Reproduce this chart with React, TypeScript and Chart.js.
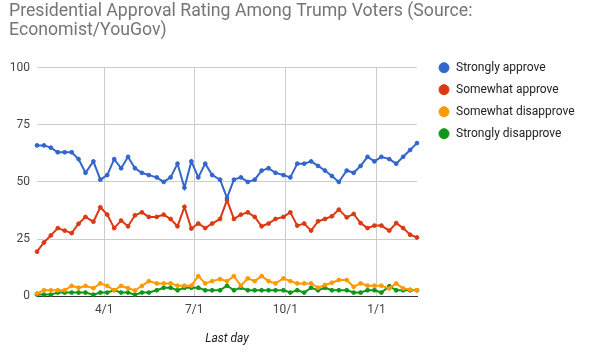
import React, { useEffect, useRef } from "react";
import { Chart, registerables } from "chart.js";

Chart.register(...registerables);

// ---- data ----
const pollDates = [
  "2017-01-23", "2017-01-30", "2017-02-06", "2017-02-13", "2017-02-20", "2017-02-27",
  "2017-03-06", "2017-03-13", "2017-03-21", "2017-03-28", "2017-04-04", "2017-04-11",
  "2017-04-18", "2017-04-25", "2017-05-02", "2017-05-09", "2017-05-16", "2017-05-24",
  "2017-05-31", "2017-06-07", "2017-06-14", "2017-06-21", "2017-06-28", "2017-07-05",
  "2017-07-12", "2017-07-19", "2017-07-27", "2017-08-03", "2017-08-10", "2017-08-17",
  "2017-08-24", "2017-08-31", "2017-09-07", "2017-09-14", "2017-09-21", "2017-09-29",
  "2017-10-06", "2017-10-13", "2017-10-20", "2017-10-27", "2017-11-03", "2017-11-10",
  "2017-11-17", "2017-11-24", "2017-12-02", "2017-12-09", "2017-12-16", "2017-12-23",
  "2017-12-30", "2018-01-06", "2018-01-14", "2018-01-21", "2018-01-28", "2018-02-04",
  "2018-02-11",
];

const stronglyApprove = [
  66, 66, 65, 63, 63, 63, 60, 54, 59, 51,
  53, 60, 56, 61, 56, 54, 53, 52, 50, 52,
  58, 47.5, 59, 52, 58, 53, 51, 43, 51, 52,
  50, 51, 55, 56, 54, 53, 52, 58, 58, 59,
  57, 55, 52.6, 50, 55, 54, 57, 61, 59, 61,
  60, 58, 61, 64, 67,
];

const somewhatApprove = [
  19.5, 23.5, 26.6, 29.8, 28.7, 27.6, 31.7, 34.7, 32.6, 38.9,
  35.7, 29.8, 33.1, 30.6, 35.4, 36.7, 34.7, 34.7, 35.7, 33.8,
  30.6, 39.1, 29.6, 31.8, 29.8, 31.8, 33.8, 42, 33.8, 35.7,
  36.7, 34.7, 30.6, 31.8, 33.8, 34.7, 36.7, 30.9, 31.8, 28.7,
  32.8, 33.8, 35, 37.9, 34.5, 36, 32, 29.8, 30.9, 30.9,
  28.7, 32, 29.8, 26.9, 25.7,
];

const somewhatDisapprove = [
  1.2, 2.6, 2.6, 2.6, 2.6, 4.5, 3.7, 4.5, 3.5, 5.6,
  4.5, 2.6, 4.5, 3.5, 2.5, 4.5, 6.6, 5.6, 5.6, 5.6,
  4.6, 4.6, 4.6, 8.8, 5.6, 6.6, 7.5, 6.6, 8.8, 4.6,
  7.8, 6.6, 8.8, 6.6, 5.6, 7.8, 6.6, 5.6, 5.6, 5.6,
  3.7, 4.9, 5.9, 7.1, 7.1, 4.1, 5.6, 4.6, 4.6, 4.6,
  3.4, 5.6, 3.4, 2.9, 2.6,
];

const stronglyDisapprove = [
  0.7, 0.7, 0.7, 1.6, 1.6, 1.6, 1.6, 1.6, 0.7, 1.6,
  1.6, 2.6, 1.6, 1.6, 0.7, 1.6, 1.6, 2.6, 3.7, 3.7,
  2.6, 3.7, 3.7, 3.7, 2.6, 2.6, 2.6, 4.6, 2.6, 3.7,
  2.6, 2.6, 2.6, 2.6, 2.6, 2.6, 1.6, 2.6, 1.6, 3.7,
  2.6, 3.7, 2.6, 2.6, 2.6, 1.6, 1.6, 2.6, 2.6, 1.6,
  4.4, 2.6, 2.6, 2.6, 2.6,
];

const seriesNames = [
  "Strongly approve",
  "Somewhat approve",
  "Somewhat disapprove",
  "Strongly disapprove",
];
const seriesValues = [stronglyApprove, somewhatApprove, somewhatDisapprove, stronglyDisapprove];
const seriesColors = ["#3366CC", "#DC3912", "#FF9900", "#109618"];

const xTickDates = ["2017-04-01", "2017-07-01", "2017-10-01", "2018-01-01"];
const xTickLabels = ["4/1", "7/1", "10/1", "1/1"];
const yTicks = [0, 25, 50, 75, 100];

const titleLines = [
  "Presidential Approval Rating Among Trump Voters (Source:",
  "Economist/YouGov)",
];
const xAxisTitle = "Last day";

// ---- helpers ----
const DAY_MS = 86400000;
const toDay = (s: string) => {
  const [y, m, d] = s.split("-").map(Number);
  return Date.UTC(y, m - 1, d) / DAY_MS;
};

const FONT = "Roboto, 'Noto Sans', Arial, sans-serif";
const LEGEND_DX = 11;
const LEGEND_DY = 16;

const legendShift = {
  id: "legendShift",
  afterLayout(chart: any) {
    const lg = chart.legend;
    if (!lg) return;
    lg.top -= LEGEND_DY;
    lg.bottom -= LEGEND_DY;
    lg.left += LEGEND_DX;
    lg.right += LEGEND_DX + 30;
  },
};

export default function App() {
  const canvasRef = useRef<HTMLCanvasElement | null>(null);

  useEffect(() => {
    const canvas = canvasRef.current;
    if (!canvas) return;
    const days = pollDates.map(toDay);
    const tickDays = xTickDates.map(toDay);

    const chart = new Chart(canvas, {
      type: "line",
      data: {
        datasets: seriesNames.map((name, i) => ({
          label: name,
          data: seriesValues[i].map((v, j) => ({ x: days[j], y: v })),
          borderColor: seriesColors[i],
          backgroundColor: seriesColors[i],
          pointBackgroundColor: seriesColors[i],
          pointBorderColor: seriesColors[i],
          borderWidth: 2,
          pointRadius: 1.9,
          pointBorderWidth: 1,
          tension: 0,
          fill: false,
          clip: false as any,
        })),
      },
      options: {
        animation: false,
        responsive: false,
        devicePixelRatio: 1,
        layout: { padding: { left: 9, right: 36, top: 2, bottom: 6 } },
        plugins: {
          title: {
            display: true,
            text: titleLines,
            align: "start",
            color: "#757575",
            font: { family: FONT, size: 17.7, weight: "normal", lineHeight: 19 / 17.7 },
            padding: { top: 0, bottom: 27.7 },
          },
          legend: {
            display: true,
            position: "right",
            align: "start",
            fullSize: false,
            labels: {
              usePointStyle: true,
              pointStyle: "circle",
              boxHeight: 7.07,
              padding: 10,
              color: "#222222",
              font: { family: FONT, size: 12 },
            },
          },
          tooltip: { enabled: false },
        },
        scales: {
          x: {
            type: "linear",
            min: days[0],
            max: days[days.length - 1],
            afterBuildTicks: (axis: any) => {
              axis.ticks = tickDays.map((v) => ({ value: v }));
            },
            ticks: {
              autoSkip: false,
              maxRotation: 0,
              padding: 7,
              color: "#444444",
              font: { family: FONT, size: 12 },
              callback: (value: any) => {
                const idx = tickDays.indexOf(Number(value));
                return idx >= 0 ? xTickLabels[idx] : "";
              },
            },
            grid: { color: "#cccccc", lineWidth: 1, drawTicks: false },
            border: { display: true, color: "#333333", width: 1 },
            title: {
              display: true,
              text: xAxisTitle,
              color: "#222222",
              font: { family: FONT, size: 12, style: "italic" },
              padding: { top: 7, bottom: 4 },
            },
          },
          y: {
            min: 0,
            max: 100,
            afterBuildTicks: (axis: any) => {
              axis.ticks = yTicks.map((v) => ({ value: v }));
            },
            afterFit: (scale: any) => {
              scale.width = 28;
            },
            ticks: {
              padding: 7,
              color: "#444444",
              font: { family: FONT, size: 12 },
            },
            grid: {
              color: (c: any) => (c.tick && c.tick.value === 0 ? "#333333" : "#cccccc"),
              lineWidth: 1,
              drawTicks: false,
            },
            border: { display: false },
          },
        },
      },
      plugins: [legendShift],
    } as any);

    return () => chart.destroy();
  }, []);

  return (
    <div style={{ position: "fixed", left: 0, top: 0, width: 589, height: 356, background: "#ffffff" }}>
      <canvas ref={canvasRef} width={589} height={356} style={{ width: 589, height: 356, display: "block" }} />
    </div>
  );
}
